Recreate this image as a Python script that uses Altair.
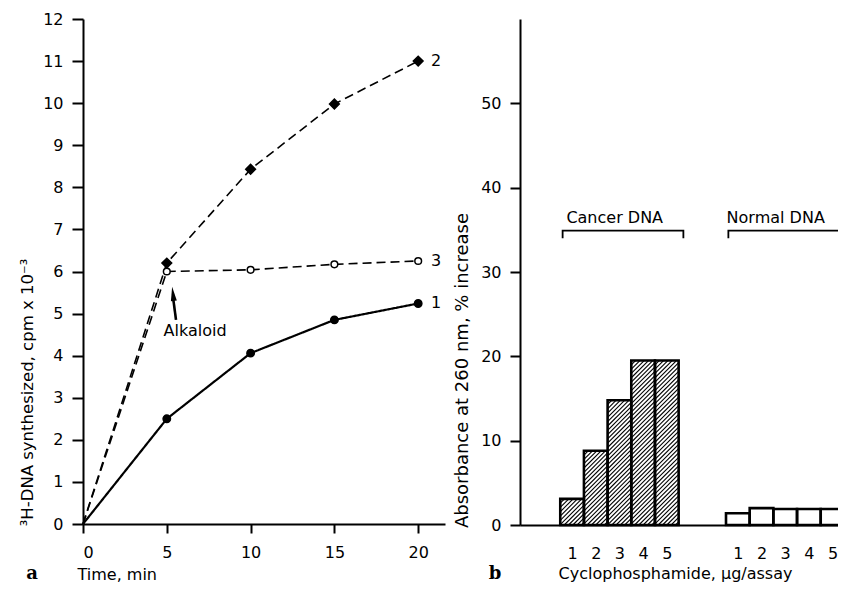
import altair as alt
import pandas as pd

# ---------------- data ----------------
time_min = [0, 5, 10, 15, 20]
series_1 = [0, 2.5, 4.06, 4.85, 5.24]
series_2 = [0, 6.2, 8.43, 9.98, 11.0]
series_3 = [0, 6.0, 6.04, 6.17, 6.25]
series_names = ["1", "2", "3"]

doses = [1, 2, 3, 4, 5]
cancer_dna = [3.1, 8.8, 14.8, 19.5, 19.5]
normal_dna = [1.4, 2.0, 1.9, 1.9, 1.9]
group_names = ["Cancer DNA", "Normal DNA"]

a_x_ticks = [0, 5, 10, 15, 20]
a_y_ticks = list(range(0, 13))
b_y_ticks = [0, 10, 20, 30, 40, 50]

# ---------------- layout (pixels inside chart) ----------------
W, H = 830, 575
FONT = "DejaVu Sans"
A_X = dict(domain=[0, 21.6], range=[75, 437])
A_Y = dict(domain=[0, 12], range=[516, 11])
B_X = dict(domain=[-1.2, 12.23], range=[512, 830])
B_Y = dict(domain=[0, 60], range=[517, 11])
GROUP_GAP = 7  # position offset of second bar group
PX_X = (B_X["range"][1] - B_X["range"][0]) / (B_X["domain"][1] - B_X["domain"][0])
PX_Y = (B_Y["range"][0] - B_Y["range"][1]) / (B_Y["domain"][1] - B_Y["domain"][0])
HATCH = 4.3


def sc(d):
    return alt.Scale(domain=d["domain"], range=d["range"], nice=False, zero=False)


def ax(field, d, axis=None):
    return alt.X(field, type="quantitative", scale=sc(d), axis=axis)


def ay(field, d, axis=None):
    return alt.Y(field, type="quantitative", scale=sc(d), axis=axis)


# ---------------- panel a ----------------
lines = pd.DataFrame({
    "time": time_min * 3,
    "value": series_1 + series_2 + series_3,
    "series": sum([[s] * len(time_min) for s in series_names], []),
})

axis_ax = alt.Axis(orient="bottom", offset=A_Y["range"][0] - H, values=a_x_ticks,
                   tickSize=9, tickWidth=2, domainWidth=2, domainColor="black",
                   tickColor="black", labelFontSize=16, labelFont=FONT, labelColor="black",
                   labelPadding=11, grid=False, title="Time, min", titleFont=FONT,
                   titleFontSize=16, titleFontWeight="normal", titleColor="black",
                   titleX=69, titleY=55, titleAlign="left", titleBaseline="alphabetic")
axis_ay = alt.Axis(orient="left", offset=-A_X["range"][0], values=a_y_ticks,
                   tickSize=11, tickWidth=2, domainWidth=2, domainColor="black",
                   tickColor="black", labelFontSize=16, labelFont=FONT, labelColor="black",
                   labelPadding=9, grid=False, title="³H-DNA synthesized, cpm x 10⁻³",
                   titleFont=FONT, titleFontSize=16.5, titleFontWeight="normal",
                   titleColor="black", titleX=-51, titleY=384, titleAngle=270,
                   titleAlign="center", titleBaseline="alphabetic")

layers = []
styles = {
    "1": dict(dash=[1, 0], width=2.2, shape="circle", fill="black", size=55),
    "2": dict(dash=[9, 5], width=1.6, shape="diamond", fill="black", size=95),
    "3": dict(dash=[9, 5], width=1.6, shape="circle", fill="white", size=45),
}
first = True
for s in series_names:
    st = styles[s]
    base = alt.Chart(lines).transform_filter(alt.datum.series == s)
    layers.append(base.mark_line(color="black", strokeWidth=st["width"],
                                 strokeDash=st["dash"]).encode(
        x=ax("time", A_X, axis_ax if first else None),
        y=ay("value", A_Y, axis_ay if first else None),
        order="time:Q"))
    first = False
    layers.append(base.transform_filter(alt.datum.time > 0).mark_point(
        shape=st["shape"], filled=True, fill=st["fill"], stroke="black",
        strokeWidth=1.5, size=st["size"], opacity=1).encode(
        x=ax("time", A_X), y=ay("value", A_Y)))

# series labels at the last point
layers.append(alt.Chart(lines).transform_filter(alt.datum.time == max(time_min)).mark_text(
    dx=18, font=FONT, fontSize=16, color="black", align="center", baseline="middle").encode(
    x=ax("time", A_X), y=ay("value", A_Y), text="series:N"))

# Alkaloid annotation
alk = pd.DataFrame({"x": [5.55], "y": [4.85], "x2": [5.38], "y2": [5.36],
                    "hx": [5.37], "hy": [5.47], "tx": [6.69], "ty": [4.59],
                    "label": ["Alkaloid"]})
layers.append(alt.Chart(alk).mark_rule(color="black", strokeWidth=2.6).encode(
    x=ax("x", A_X), y=ay("y", A_Y), x2="x2:Q", y2="y2:Q"))
layers.append(alt.Chart(alk).mark_point(
    shape="M0,-1L0.42,1L-0.42,1Z", filled=True, color="black", size=200,
    angle=353, opacity=1).encode(x=ax("hx", A_X), y=ay("hy", A_Y)))
layers.append(alt.Chart(alk).mark_text(font=FONT, fontSize=16, color="black",
                                       align="center", baseline="middle").encode(
    x=ax("tx", A_X), y=ay("ty", A_Y), text="label:N"))

# ---------------- panel b ----------------
bars = pd.DataFrame({
    "dose": doses * 2,
    "value": cancer_dna + normal_dna,
    "group": [group_names[0]] * len(doses) + [group_names[1]] * len(doses),
})
bars_base = alt.Chart(bars).transform_calculate(
    pos=f"datum.dose + (datum.group == '{group_names[1]}' ? {GROUP_GAP} : 0)"
).transform_calculate(x0="datum.pos - 0.5", x1="datum.pos + 0.5")

b_tick_vals = doses + [d + GROUP_GAP for d in doses]
axis_bx = alt.Axis(orient="bottom", offset=B_Y["range"][0] - H, values=b_tick_vals,
                   ticks=False, tickSize=0, domainWidth=2, domainColor="black",
                   labelFontSize=16, labelFont=FONT, labelColor="black",
                   labelPadding=20, grid=False,
                   labelExpr=f"datum.value > {GROUP_GAP} ? datum.value - {GROUP_GAP} : datum.value",
                   title="Cyclophosphamide, µg/assay", titleFont=FONT, titleFontSize=16,
                   titleFontWeight="normal", titleColor="black", titleX=667, titleY=53,
                   titleAlign="center", titleBaseline="alphabetic")
axis_by = alt.Axis(orient="left", offset=-B_X["range"][0], values=b_y_ticks,
                   tickSize=10, tickWidth=2, domainWidth=2, domainColor="black",
                   tickColor="black", labelFontSize=16, labelFont=FONT, labelColor="black",
                   labelPadding=9, grid=False, title="Absorbance at 260 nm, % increase",
                   titleFont=FONT, titleFontSize=18, titleFontWeight="normal",
                   titleColor="black", titleX=-53, titleY=362, titleAngle=270,
                   titleAlign="center", titleBaseline="alphabetic")

layers.append(bars_base.mark_rect(fill="white", stroke=None).encode(
    x=ax("x0", B_X, axis_bx), x2="x1:Q",
    y=ay("value", B_Y, axis_by), y2=alt.datum(0)))

# diagonal hatching of cancer DNA bars, derived from the bar values
hatch = bars_base.transform_filter(alt.datum.group == group_names[0]).transform_calculate(
    Wp=f"{PX_X}", Hp=f"datum.value * {PX_Y}", ks="sequence(1, 90)"
).transform_flatten(["ks"]).transform_calculate(
    c=f"datum.ks * {HATCH} - datum.Hp"
).transform_filter("datum.c < datum.Wp").transform_calculate(
    u0="max(0, datum.c)", u1="min(datum.Wp, datum.Hp + datum.c)"
).transform_filter("datum.u1 > datum.u0").transform_calculate(
    xa=f"datum.x0 + datum.u0 / {PX_X}", ya=f"(datum.u0 - datum.c) / {PX_Y}",
    xb=f"datum.x0 + datum.u1 / {PX_X}", yb=f"(datum.u1 - datum.c) / {PX_Y}")
layers.append(hatch.mark_rule(color="black", strokeWidth=1.1).encode(
    x=ax("xa", B_X), y=ay("ya", B_Y), x2="xb:Q", y2="yb:Q"))

layers.append(bars_base.mark_rect(fillOpacity=0, stroke="black", strokeWidth=2.6).encode(
    x=ax("x0", B_X), x2="x1:Q", y=ay("value", B_Y), y2=alt.datum(0)))

# group brackets and labels
br_rows = []
for gi, g in enumerate(group_names):
    left = doses[0] + gi * GROUP_GAP - 0.4
    right = doses[-1] + gi * GROUP_GAP + 0.7
    for k, (bx, by) in enumerate([(left, 34.0), (left, 34.9), (right, 34.9), (right, 34.0)]):
        br_rows.append({"group": g, "k": k, "bx": bx, "by": by})
brackets = pd.DataFrame(br_rows)
layers.append(alt.Chart(brackets).mark_line(color="black", strokeWidth=1.8).encode(
    x=ax("bx", B_X), y=ay("by", B_Y), detail="group:N", order="k:Q"))

glabels = pd.DataFrame({"group": group_names,
                        "lx": [doses[2] - 0.2, doses[2] + GROUP_GAP - 0.4],
                        "ly": [35.8, 35.8]})
layers.append(alt.Chart(glabels).mark_text(font=FONT, fontSize=16, color="black",
                                           align="center", baseline="alphabetic").encode(
    x=ax("lx", B_X), y=ay("ly", B_Y), text="group:N"))

# panel letters
letters = pd.DataFrame({"letter": ["a", "b"], "px": [24, 487], "py": [571, 571]})
layers.append(alt.Chart(letters).mark_text(font="DejaVu Serif", fontSize=18, fontWeight="bold",
                                           color="black", align="center",
                                           baseline="alphabetic").encode(
    x=alt.X("px:Q", scale=None), y=alt.Y("py:Q", scale=None), text="letter:N"))

chart = alt.layer(*layers).resolve_scale(x="independent", y="independent").resolve_axis(
    x="independent", y="independent").properties(
    width=W, height=H, padding=0, autosize=alt.AutoSizeParams(type="none"),
    background="white").configure_view(stroke=None)

chart.save("out.html", embed_options={"renderer": "svg", "actions": False})
